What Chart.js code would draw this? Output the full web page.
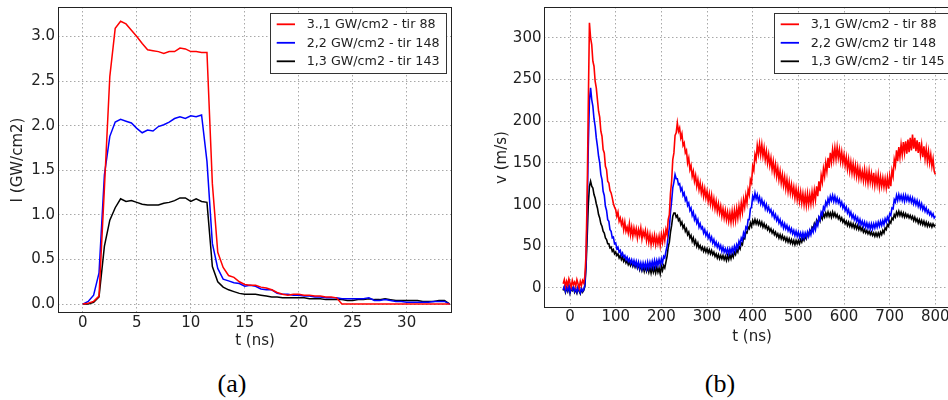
<!DOCTYPE html>
<html><head><meta charset="utf-8">
<script src="https://cdn.jsdelivr.net/npm/chart.js@4.4.0/dist/chart.umd.min.js"></script>
<style>
html,body{margin:0;padding:0;background:#fff;overflow:hidden;width:948px;height:400px;position:relative;}
#wa{position:absolute;left:0;top:0;width:470px;height:350px;}
#wb{position:absolute;left:474px;top:0;width:500px;height:350px;}
.cap{position:absolute;font-family:"Liberation Serif","DejaVu Serif",serif;font-size:26px;line-height:30px;color:#000;top:369px;width:60px;text-align:center;}
#capa{left:202px;}
#capb{left:690px;}
</style></head><body>
<div id="wa"><canvas id="ca" width="470" height="350"></canvas></div>
<div id="wb"><canvas id="cb" width="500" height="350"></canvas></div>
<div class="cap" id="capa">(a)</div>
<div class="cap" id="capb">(b)</div>
<script>
// ---------- chart (a): intensity vs time ----------
const tA = [0,0.5,1,1.5,2,2.5,3,3.5,4,4.5,
 5,5.5,6,6.5,7,7.5,8,8.5,9,9.5,
 10,10.5,11,11.5,12,12.5,13,13.5,14,14.5,
 15,15.5,16,16.5,17,17.5,18,18.5,19,19.5,
 20,20.5,21,21.5,22,22.5,23,23.5,24,24.5,
 25,25.5,26,26.5,27,27.5,28,28.5,29,29.5,
 30,30.5,31,31.5,32,32.5,33,33.5,34];
const redA = [0,0.01,0.03,0.09,1.3,2.55,3.09,3.17,3.14,3.07,
 3.0,2.92,2.85,2.84,2.83,2.81,2.83,2.83,2.87,2.86,
 2.83,2.83,2.82,2.82,1.35,0.58,0.41,0.32,0.3,0.25,
 0.22,0.21,0.21,0.19,0.18,0.16,0.13,0.11,0.1,0.11,
 0.11,0.1,0.1,0.09,0.09,0.08,0.08,0.07,0,0,
 0,0,0,0,0,0,0,0,0,0,
 0,0,0,0,0,0,0,0,0];
const blueA = [0,0.03,0.1,0.35,1.45,1.88,2.04,2.07,2.05,2.03,
 1.97,1.92,1.95,1.94,1.99,2.01,2.04,2.08,2.1,2.08,
 2.11,2.1,2.12,1.6,0.68,0.4,0.28,0.26,0.24,0.23,
 0.2,0.21,0.2,0.17,0.16,0.16,0.12,0.11,0.11,0.1,
 0.1,0.09,0.09,0.08,0.08,0.07,0.07,0.07,0.06,0.06,
 0.06,0.06,0.06,0.07,0.04,0.04,0.05,0.04,0.03,0.03,
 0.02,0.02,0.02,0.02,0.02,0.03,0.03,0.03,0];
const blackA = [0,0,0.02,0.08,0.65,0.94,1.08,1.18,1.15,1.16,
 1.14,1.12,1.11,1.11,1.11,1.13,1.14,1.16,1.19,1.19,
 1.15,1.18,1.15,1.14,0.42,0.25,0.19,0.16,0.14,0.12,
 0.11,0.11,0.11,0.1,0.09,0.08,0.08,0.07,0.07,0.07,
 0.07,0.07,0.06,0.06,0.06,0.05,0.05,0.05,0.05,0.04,
 0.04,0.05,0.05,0.06,0.05,0.05,0.06,0.05,0.04,0.04,
 0.04,0.04,0.04,0.03,0.03,0.03,0.04,0.04,0];
const xTicksA = [0,5,10,15,20,25,30];
const yTicksA = [0,0.5,1,1.5,2,2.5,3];
const legendA = ['3.,1 GW/cm2 - tir 88','2,2 GW/cm2 - tir 148','1,3 GW/cm2 - tir 143'];

// ---------- chart (b): velocity vs time ----------
const tB = [-15,-12.5,-10,-7.5,-5,-2.5,0,2.5,5,7.5,10,12.5,15,17.5,20,22.5,25,27.5,30,32.5,
 35,37.5,40,42.5,45,47.5,50,52.5,55,57.5,60,62.5,65,67.5,70,72.5,75,77.5,80,82.5,
 85,87.5,90,92.5,95,97.5,100,102.5,105,107.5,110,112.5,115,117.5,120,122.5,125,127.5,130,132.5,
 135,137.5,140,142.5,145,147.5,150,152.5,155,157.5,160,162.5,165,167.5,170,172.5,175,177.5,180,182.5,
 185,187.5,190,192.5,195,197.5,200,202.5,205,207.5,210,212.5,215,217.5,220,222.5,225,227.5,230,232.5,
 235,237.5,240,242.5,245,247.5,250,252.5,255,257.5,260,262.5,265,267.5,270,272.5,275,277.5,280,282.5,
 285,287.5,290,292.5,295,297.5,300,302.5,305,307.5,310,312.5,315,317.5,320,322.5,325,327.5,330,332.5,
 335,337.5,340,342.5,345,347.5,350,352.5,355,357.5,360,362.5,365,367.5,370,372.5,375,377.5,380,382.5,
 385,387.5,390,392.5,395,397.5,400,402.5,405,407.5,410,412.5,415,417.5,420,422.5,425,427.5,430,432.5,
 435,437.5,440,442.5,445,447.5,450,452.5,455,457.5,460,462.5,465,467.5,470,472.5,475,477.5,480,482.5,
 485,487.5,490,492.5,495,497.5,500,502.5,505,507.5,510,512.5,515,517.5,520,522.5,525,527.5,530,532.5,
 535,537.5,540,542.5,545,547.5,550,552.5,555,557.5,560,562.5,565,567.5,570,572.5,575,577.5,580,582.5,
 585,587.5,590,592.5,595,597.5,600,602.5,605,607.5,610,612.5,615,617.5,620,622.5,625,627.5,630,632.5,
 635,637.5,640,642.5,645,647.5,650,652.5,655,657.5,660,662.5,665,667.5,670,672.5,675,677.5,680,682.5,
 685,687.5,690,692.5,695,697.5,700,702.5,705,707.5,710,712.5,715,717.5,720,722.5,725,727.5,730,732.5,
 735,737.5,740,742.5,745,747.5,750,752.5,755,757.5,760,762.5,765,767.5,770,772.5,775,777.5,780,782.5,
 785,787.5,790,792.5,795,797.5,800];
const redB = [5,10,2,8,3,11,6,1,9,4,7,2,10,5,0,8,3,9,6,14,
 40,110,220,318,300,292,272,266,248,240,226,212,205,188,182,166,162,146,142,128,
 126,117,114,108,101,97,94,86,91,80,84,76,81,70,79,68,73,66,77,64,
 73,62,72,64,71,60,70,63,72,59,68,62,69,57,66,55,64,52,62,54,
 63,52,61,53,62,51,64,55,66,57,70,64,82,88,114,128,154,162,183,186,
 198,188,192,180,185,171,174,162,165,150,156,142,147,134,140,128,135,122,130,118,
 126,114,122,110,119,108,116,104,113,101,111,98,107,95,104,92,101,90,98,86,
 95,84,93,82,91,80,90,79,92,80,93,81,95,84,98,87,102,91,106,97,
 111,102,118,112,130,126,146,141,160,154,171,161,173,160,172,158,168,154,164,150,
 160,147,156,142,152,138,148,134,144,130,140,126,136,123,133,119,130,116,127,114,
 124,112,121,108,119,106,117,104,115,102,113,100,112,99,113,100,112,101,115,103,
 117,106,122,110,128,116,135,127,143,134,150,140,156,144,162,151,166,154,168,155,
 169,156,166,152,163,150,160,147,157,143,154,140,151,138,149,136,147,134,145,132,
 143,131,140,129,142,128,139,126,140,127,137,125,138,123,135,124,136,121,133,122,
 132,121,131,120,132,119,134,122,141,134,154,147,165,152,169,157,172,160,175,162,
 176,161,178,163,180,165,184,167,180,164,177,162,175,160,172,157,170,155,167,152,
 164,150,160,146,155,140,136];
const blueB = [-2,2,-4,1,-3,3,-5,0,-2,2,-4,-1,-5,1,-3,-6,0,-4,-2,4,
 30,90,170,225,240,226,218,203,194,180,170,158,150,136,130,116,111,98,93,82,
 80,70,68,60,61,53,54,47,49,43,45,39,42,37,39,34,37,32,35,30,
 34,28,33,27,32,25,31,24,30,23,30,24,30,23,31,24,31,25,32,25,
 33,26,33,27,34,28,35,30,38,36,44,50,63,72,91,104,120,127,136,131,
 131,124,125,117,120,111,114,105,108,99,102,93,96,87,91,82,86,78,82,73,
 77,71,73,66,70,63,67,60,64,57,61,54,58,51,55,49,53,47,51,44,
 49,43,47,42,47,41,47,42,48,43,50,45,52,48,56,52,60,57,66,62,
 73,71,82,82,95,97,110,106,114,107,112,104,109,101,106,99,103,95,100,93,
 97,91,94,87,91,84,88,81,85,78,82,75,79,72,77,71,75,69,73,67,
 71,65,69,63,68,62,67,61,66,60,66,60,66,61,67,62,69,64,71,67,
 75,70,79,75,85,82,91,88,97,94,103,99,107,102,110,105,111,104,110,103,
 108,102,106,99,103,96,100,93,97,90,94,87,91,84,88,82,86,80,84,77,
 82,76,80,74,79,73,78,72,77,71,77,71,77,72,78,73,79,74,80,75,
 81,76,83,79,85,81,89,87,96,95,106,103,111,105,112,106,111,105,111,104,
 111,105,110,104,109,103,108,101,106,100,105,98,103,96,101,94,98,92,96,90,
 93,88,91,86,89,84,86];
const blackB = [-3,1,-5,0,-4,2,-6,-1,-3,1,-5,-2,-6,0,-4,-7,-1,-5,-3,2,
 25,60,100,122,128,122,120,112,108,101,96,88,84,77,74,68,66,60,58,53,
 53,48,49,44,46,41,43,39,41,36,39,34,37,32,35,30,33,28,31,27,
 31,26,30,25,29,24,28,22,27,21,26,20,26,20,25,19,25,18,25,19,
 24,18,25,19,24,17,26,21,27,24,31,38,49,55,67,75,86,90,90,85,
 87,81,83,76,79,72,75,68,71,64,67,60,63,56,60,53,57,50,54,48,
 51,46,49,44,48,43,47,42,46,41,45,40,43,38,41,36,40,35,39,35,
 39,34,38,33,39,34,40,35,41,37,43,40,46,43,50,47,54,52,60,59,
 67,66,73,71,78,74,81,77,82,77,81,76,80,75,79,73,77,72,75,70,
 73,68,71,66,69,64,67,62,65,60,64,59,63,58,61,56,60,55,59,54,
 58,53,57,52,57,53,57,53,58,55,60,57,62,59,65,63,69,67,73,71,
 77,73,81,77,84,80,87,83,89,85,90,86,91,86,90,85,91,86,90,85,
 88,83,86,81,84,79,82,77,80,75,79,74,78,73,77,72,76,71,75,70,
 74,69,72,67,70,66,69,65,68,64,67,63,66,62,66,62,66,62,67,64,
 69,66,72,70,76,74,80,78,84,82,88,85,91,87,92,87,91,86,90,85,
 89,85,88,84,87,83,86,81,85,80,83,78,82,77,81,76,80,75,79,74,
 78,74,77,73,77,74,76];
const xTicksB = [0,100,200,300,400,500,600,700,800];
const yTicksB = [0,50,100,150,200,250,300];
const legendB = ['3,1 GW/cm2 - tir 88','2,2 GW/cm2 tir 148','1,3 GW/cm2 - tir 145'];

const seriesColors = ['#ff0000','#0000ff','#000000'];
const FONT = 'DejaVu Sans';
const TXT = '#222222';
const GRID = '#a8a8a8';

function pts(xs, ys){ return xs.map((x,i)=>({x:x, y:ys[i]})); }

function drawFrame(chart){
  const a = chart.chartArea, c = chart.ctx;
  c.save();
  c.strokeStyle = '#222'; c.lineWidth = 1;
  c.strokeRect(Math.round(a.left)+0.5, Math.round(a.top)+0.5, Math.round(a.right-a.left)-1, Math.round(a.bottom-a.top)-1);
  c.restore();
}
const framePlugin = { id: 'frame', afterDatasetsDraw(chart){ drawFrame(chart); } };

const boxLegend = {
  id: 'boxLegend',
  afterDatasetsDraw(chart, args, opts){
    const a = chart.chartArea, c = chart.ctx;
    c.save();
    c.font = opts.fontSize + 'px "' + FONT + '"';
    const ds = chart.data.datasets;
    const left = a.left + opts.bx;
    const w = opts.bw;
    const top = a.top + 6.3;
    const h = 60;
    c.fillStyle = '#fff';
    c.fillRect(left, top, w, h);
    c.strokeStyle = '#333'; c.lineWidth = 1;
    c.strokeRect(Math.round(left)+0.5, Math.round(top)+0.5, Math.round(w), Math.round(h));
    ds.forEach((d, i) => {
      const y = top + 11 + 18.5*i;
      c.strokeStyle = d.borderColor; c.lineWidth = 1.8;
      c.beginPath(); c.moveTo(left+6.7, y); c.lineTo(left+25, y); c.stroke();
      c.fillStyle = TXT; c.textBaseline = 'middle'; c.textAlign = 'left';
      c.fillText(d.label, left+36.7, y+0.5);
    });
    c.restore();
  }
};

function makeChart(id, cfg){
  const datasets = cfg.series.map((s, i) => ({
    label: cfg.legend[i], data: pts(cfg.t, s),
    borderColor: seriesColors[i], backgroundColor: seriesColors[i],
    borderWidth: cfg.lw, pointRadius: 0, tension: 0, fill: false
  }));
  return new Chart(document.getElementById(id), {
    type: 'line',
    data: { datasets: datasets },
    plugins: [framePlugin, boxLegend],
    options: {
      responsive: false, animation: false, devicePixelRatio: 1,
      layout: { padding: cfg.pad },
      plugins: { legend: {display:false}, tooltip: {enabled:false},
                 boxLegend: {fontSize: cfg.legendFont, bx: cfg.bx, bw: cfg.bw} },
      scales: {
        x: {
          type: 'linear', min: cfg.xmin, max: cfg.xmax,
          afterBuildTicks: s => { s.ticks = cfg.xTicks.map(v => ({value:v})); },
          afterFit: s => { s.height = cfg.xh; s.paddingLeft = 0; s.paddingRight = 0; },
          grid: { color: GRID, lineWidth: 1, drawTicks: false },
          border: { display: false, dash: [1.5,2.5] },
          ticks: { color: TXT, font: {family: FONT, size: 15}, padding: cfg.xTickPad, maxRotation: 0,
                   callback: v => String(v) },
          title: { display: true, text: 't (ns)', color: TXT, font: {family: FONT, size: 15},
                   padding: {top: 0, bottom: cfg.xTitlePad} }
        },
        y: {
          type: 'linear', min: cfg.ymin, max: cfg.ymax,
          afterBuildTicks: s => { s.ticks = cfg.yTicks.map(v => ({value:v})); },
          afterFit: s => { s.width = cfg.yw; s.paddingTop = 0; s.paddingBottom = 0; },
          grid: { color: GRID, lineWidth: 1, drawTicks: false },
          border: { display: false, dash: [1.5,2.5] },
          ticks: { color: TXT, font: {family: FONT, size: 15}, padding: cfg.yTickPad,
                   callback: cfg.yFmt },
          title: { display: true, text: cfg.yTitle, color: TXT, font: {family: FONT, size: 15},
                   padding: {top: cfg.yTitlePad, bottom: 0} }
        }
      }
    }
  });
}

makeChart('ca', {
  t: tA, series: [redA, blueA, blackA], legend: legendA, legendFont: 12.7, lw: 1.5,
  bx: 212, bw: 176,
  xmin: -2.3, xmax: 34.2, ymin: -0.1, ymax: 3.33,
  xTicks: xTicksA, yTicks: yTicksA,
  pad: {left: 0, right: 18, top: 7, bottom: 0},
  xh: 37, yw: 58, xTickPad: 1.5, yTickPad: 3, xTitlePad: 0, yTitlePad: 9,
  yTitle: 'I (GW/cm2)', yFmt: v => Number(v).toFixed(1)
});

makeChart('cb', {
  t: tB, series: [redB, blueB, blackB], legend: legendB, legendFont: 12.8, lw: 1.6,
  bx: 230, bw: 182,
  xmin: -57, xmax: 854, ymin: -24, ymax: 337,
  xTicks: xTicksB, yTicks: yTicksB,
  pad: {left: 0, right: 14, top: 7, bottom: 0},
  xh: 42, yw: 70, xTickPad: 0, yTickPad: 2.5, xTitlePad: 4, yTitlePad: 19,
  yTitle: 'v (m/s)', yFmt: v => String(v)
});
</script>
</body></html>
